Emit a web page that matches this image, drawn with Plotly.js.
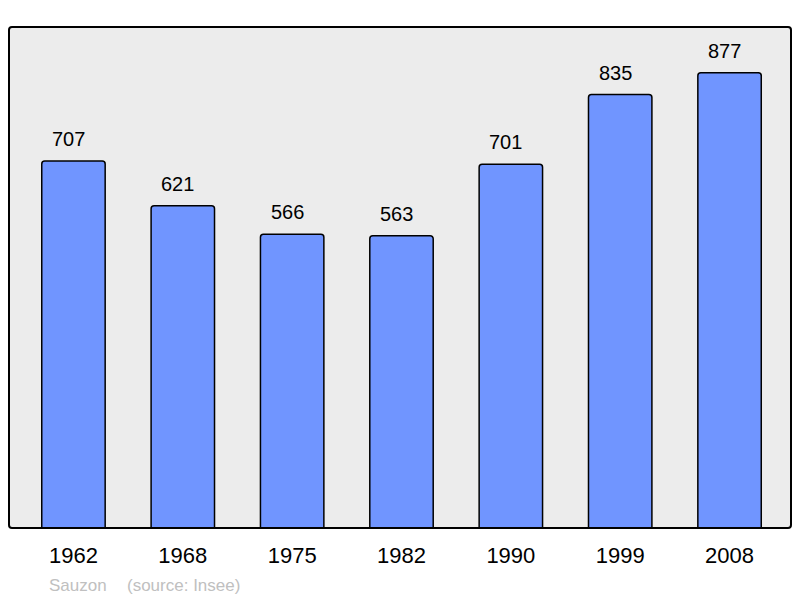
<!DOCTYPE html>
<html>
<head>
<meta charset="utf-8">
<script src="https://cdn.plot.ly/plotly-3.0.1.min.js"></script>
<style>html,body{margin:0;padding:0;background:#fff;}#chart{width:800px;height:598px;}</style>
</head>
<body>
<div id="chart"></div>
<script>
var years = ["1962", "1968", "1975", "1982", "1990", "1999", "2008"];
var population = [707, 621, 566, 563, 701, 835, 877];
var commune = "Sauzon";
var source = "(source: Insee)";

var FONT = "Liberation Sans, Arial, sans-serif";

var trace = {
  type: "bar",
  x: years,
  y: population,
  width: 0.58,
  marker: {color: "#7095ff", line: {color: "#000", width: 1.5}, cornerradius: 3},
  hoverinfo: "none"
};

var annotations = [];
for (var i = 0; i < years.length; i++) {
  annotations.push({
    x: i, y: population[i], xref: "x", yref: "y",
    text: String(population[i]), showarrow: false,
    xanchor: "center", yanchor: "bottom", yshift: 9, xshift: -5,
    font: {family: FONT, size: 20, color: "#000"}
  });
}
annotations.push({
  xref: "paper", yref: "paper", x: (49 - 9) / 782.5, y: 0, yshift: -46, xshift: -2,
  xanchor: "left", yanchor: "top", showarrow: false, text: commune,
  font: {family: FONT, size: 17, color: "#c0c0c0"}
});
annotations.push({
  xref: "paper", yref: "paper", x: (127 - 9) / 782.5, y: 0, yshift: -46, xshift: -2,
  xanchor: "left", yanchor: "top", showarrow: false, text: source,
  font: {family: FONT, size: 17, color: "#c0c0c0"}
});

// rounded frame around plot area (paper coords)
var rx = 3 / 782.5, ry = 3 / 501;
var framePath = "M " + rx + ",0 L " + (1 - rx) + ",0 Q 1,0 1," + ry +
  " L 1," + (1 - ry) + " Q 1,1 " + (1 - rx) + ",1 L " + rx + ",1 Q 0,1 0," + (1 - ry) +
  " L 0," + ry + " Q 0,0 " + rx + ",0 Z";

var layout = {
  width: 800, height: 598,
  margin: {l: 9, r: 8.5, t: 27, b: 70, pad: 0},
  paper_bgcolor: "#ffffff",
  plot_bgcolor: "#ececec",
  showlegend: false,
  xaxis: {
    type: "category", range: [-0.5895, 6.562],
    showgrid: false, zeroline: false, showline: false, ticks: "",
    tickfont: {family: FONT, size: 22, color: "#000"},
    ticklabelstandoff: 12, fixedrange: true
  },
  yaxis: {
    range: [0, 965.2], showgrid: false, zeroline: false, showline: false,
    showticklabels: false, ticks: "", fixedrange: true
  },
  shapes: [{
    type: "path", xref: "paper", yref: "paper", path: framePath,
    line: {color: "#000", width: 2}, fillcolor: "rgba(0,0,0,0)", layer: "above"
  }],
  annotations: annotations
};

Plotly.newPlot("chart", [trace], layout, {displayModeBar: false, staticPlot: true});
</script>
</body>
</html>
